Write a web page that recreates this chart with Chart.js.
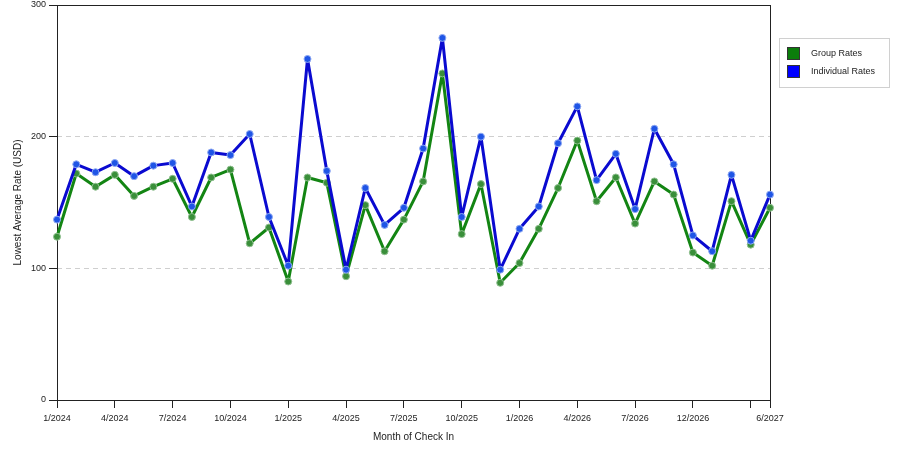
<!DOCTYPE html>
<html>
<head>
<meta charset="utf-8">
<script src="https://cdn.jsdelivr.net/npm/chart.js@4.4.1/dist/chart.umd.min.js"></script>
<style>
  html, body { margin: 0; padding: 0; background: #fff; }
</style>
</head>
<body>
<canvas id="rateChart" width="900" height="450"></canvas>
<script>
// one entry per point on the x axis
const months = [
    '1/2024', '2/2024', '3/2024', '4/2024', '5/2024', '6/2024', '7/2024', '8/2024', '9/2024', '10/2024', '11/2024', '12/2024',
    '1/2025', '2/2025', '3/2025', '4/2025', '5/2025', '6/2025', '7/2025', '8/2025', '9/2025', '10/2025', '11/2025', '12/2025',
    '1/2026', '2/2026', '3/2026', '4/2026', '5/2026', '6/2026', '7/2026', '9/2026', '10/2026', '12/2026',
    '1/2027', '3/2027', '5/2027', '6/2027'
];
const groupRates = [
    124, 172, 162, 171, 155, 162, 168, 139, 169, 175, 119, 131,
    90, 169, 165, 94, 148, 113, 137, 166, 248, 126, 164, 89,
    104, 130, 161, 197, 151, 169, 134, 166, 156, 112,
    102, 151, 118, 146
];
const individualRates = [
    137, 179, 173, 180, 170, 178, 180, 147, 188, 186, 202, 139,
    102, 259, 174, 99, 161, 133, 146, 191, 275, 139, 200, 99,
    130, 147, 195, 223, 167, 187, 145, 206, 179, 125,
    113, 171, 121, 156
];
const xTickLabels = ['1/2024', '4/2024', '7/2024', '10/2024', '1/2025', '4/2025', '7/2025', '10/2025', '1/2026', '4/2026', '7/2026', '12/2026', '6/2027'];
const xTickMarksOnly = ['5/2027'];
const yTicks = [0, 100, 200, 300];

Chart.defaults.font.family = '"Liberation Sans", Arial, sans-serif';
Chart.defaults.font.size = 9;
Chart.defaults.color = '#222';

// box round the plot area
const frame = {
    id: 'frame',
    beforeDatasetsDraw(chart) {
        const { ctx, chartArea: a } = chart;
        ctx.save();
        ctx.strokeStyle = '#222';
        ctx.lineWidth = 1;
        ctx.strokeRect(Math.round(a.left) + 0.5, Math.round(a.top) + 0.5, Math.round(a.right - a.left), Math.round(a.bottom - a.top));
        ctx.restore();
    }
};

// legend in a bordered box to the right
const boxLegend = {
    id: 'boxLegend',
    afterDraw(chart) {
        const { ctx, chartArea: a } = chart;
        const x = Math.round(a.right) + 9, y = 38, w = 110, h = 49;
        ctx.save();
        ctx.strokeStyle = '#d0d0d0';
        ctx.lineWidth = 1;
        ctx.strokeRect(x + 0.5, y + 0.5, w, h);
        ctx.font = '9px "Liberation Sans", Arial, sans-serif';
        ctx.textBaseline = 'middle';
        const swatches = ['#0b7d0b', '#0000ff'];
        chart.data.datasets.forEach((ds, i) => {
            const sy = y + 9 + i * 18;
            ctx.fillStyle = swatches[i];
            ctx.fillRect(x + 8, sy, 13, 13);
            ctx.strokeStyle = '#333';
            ctx.strokeRect(x + 8.5, sy + 0.5, 12, 12);
            ctx.fillStyle = '#222';
            ctx.fillText(ds.label, x + 32, sy + 7);
        });
        ctx.restore();
    }
};

const ctx = document.getElementById('rateChart').getContext('2d');
const chart = new Chart(ctx, {
    type: 'line',
    data: {
        labels: months,
        datasets: [{
            label: 'Group Rates',
            data: groupRates,
            borderColor: '#138513',
            borderWidth: 3,
            borderJoinStyle: 'round',
            pointRadius: 3.5,
            pointBackgroundColor: '#3a8f3a',
            pointBorderColor: '#8fbf8f',
            pointBorderWidth: 1,
            tension: 0,
            clip: false,
            order: 1
        }, {
            label: 'Individual Rates',
            data: individualRates,
            borderColor: '#0a0ad0',
            borderWidth: 3,
            borderJoinStyle: 'round',
            pointRadius: 3.5,
            pointBackgroundColor: '#1f55e6',
            pointBorderColor: '#8ea8f2',
            pointBorderWidth: 1,
            tension: 0,
            clip: false,
            order: 0
        }]
    },
    options: {
        responsive: false,
        animation: false,
        layout: { padding: { left: 0, top: 5, right: 130, bottom: 0 } },
        plugins: {
            legend: { display: false },
            tooltip: { enabled: false }
        },
        scales: {
            x: {
                afterFit: s => { s.height = 50; },
                grid: {
                    drawOnChartArea: false,
                    drawTicks: true,
                    tickLength: 8,
                    tickColor: c => (xTickLabels.includes(months[c.index]) || xTickMarksOnly.includes(months[c.index])) ? '#222' : 'rgba(0,0,0,0)'
                },
                border: { display: false },
                ticks: {
                    autoSkip: false,
                    maxRotation: 0,
                    minRotation: 0,
                    padding: 5,
                    callback: function (v, i) {
                        return xTickLabels.includes(months[i]) ? months[i] : '';
                    }
                },
                title: {
                    display: true,
                    text: 'Month of Check In',
                    font: { size: 10 },
                    padding: { top: 0, bottom: 7 }
                }
            },
            y: {
                min: 0,
                max: 300,
                afterFit: s => {
                    s.width = 57;
                    s.paddingTop = 0;
                    s.paddingBottom = 0;
                },
                afterBuildTicks: s => { s.ticks = yTicks.map(v => ({ value: v })); },
                grid: {
                    color: c => (c.tick && (c.tick.value === 100 || c.tick.value === 200)) ? '#cfcfcf' : 'rgba(0,0,0,0)',
                    tickColor: '#222',
                    tickLength: 8
                },
                border: { display: false, dash: [5, 4] },
                ticks: { padding: 3 },
                title: {
                    display: true,
                    text: 'Lowest Average Rate (USD)',
                    font: { size: 10 },
                    padding: { top: 12, bottom: 0 }
                }
            }
        }
    },
    plugins: [frame, boxLegend]
});
</script>
</body>
</html>
